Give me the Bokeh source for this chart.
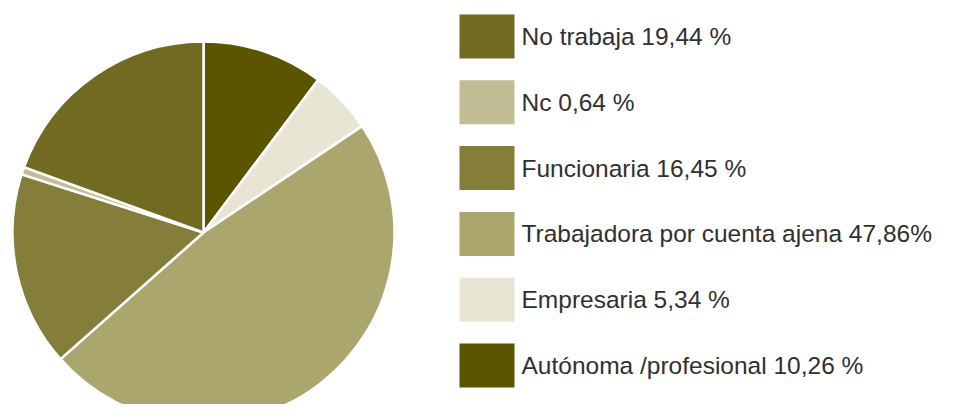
import math
from bokeh.plotting import figure
from bokeh.models import ColumnDataSource, Range1d
from bokeh.core.properties import value
from bokeh.embed import file_html
from bokeh.resources import INLINE

# Data (pie order: clockwise from 12 o'clock)
categories = ["Autónoma /profesional", "Empresaria", "Trabajadora por cuenta ajena",
              "Funcionaria", "Nc", "No trabaja"]
percents = [10.26, 5.34, 47.86, 16.45, 0.64, 19.44]
labels = ["Autónoma /profesional 10,26 %", "Empresaria 5,34 %",
          "Trabajadora por cuenta ajena 47,86%", "Funcionaria 16,45 %",
          "Nc 0,64 %", "No trabaja 19,44 %"]
colors = ["#5b5500", "#e8e5d4", "#aba66e", "#857e3a", "#c2bd94", "#716a21"]

W, H = 940, 404
p = figure(width=W, height=H, output_backend="svg", toolbar_location=None,
           x_range=Range1d(0, W), y_range=Range1d(0, H), min_border=0)
p.axis.visible = False
p.grid.visible = False
p.outline_line_color = None
p.background_fill_color = "white"

# Pie
total = sum(percents)
starts, ends = [], []
acc = 0.0
for v in percents:
    a0 = math.pi / 2 - 2 * math.pi * acc / total
    acc += v
    a1 = math.pi / 2 - 2 * math.pi * acc / total
    starts.append(a0)
    ends.append(a1)

cx, cy, r = 203, 172, 191
src = ColumnDataSource(dict(start=starts, end=ends, color=colors))
p.wedge(x=cx, y=cy, radius=r, start_angle="start", end_angle="end",
        direction="clock", fill_color="color", line_color="white", line_width=2.5,
        source=src)

# Legend (reverse order, top to bottom)
order = list(range(len(categories)))[::-1]
top_y, pitch = 368, 65.8
ly = [top_y - i * pitch for i in range(len(order))]
leg = ColumnDataSource(dict(
    y=ly,
    color=[colors[k] for k in order],
    label=[labels[k] for k in order],
))
p.rect(x=486.5, y="y", width=55, height=44, fill_color="color", line_color=None, source=leg)
p.text(x=521, y="y", text="label", text_font=value("Liberation Sans"),
       text_font_size="24.5px", text_color="#303030", text_baseline="middle",
       text_align="left", source=leg)

open("out.html", "w").write(file_html(p, INLINE))
